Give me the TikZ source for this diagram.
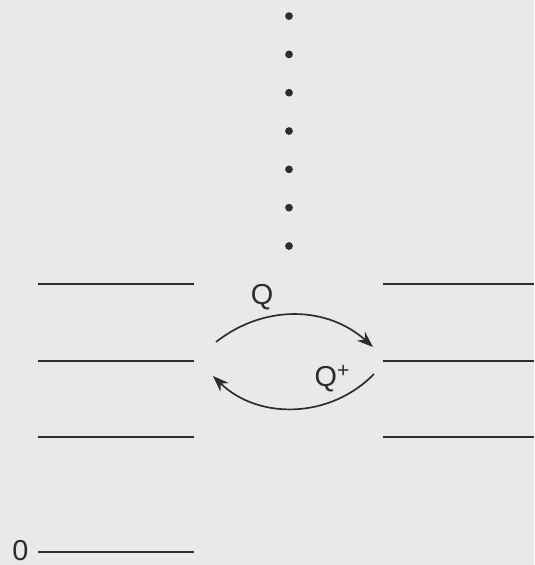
\documentclass[tikz,border=0pt]{standalone}
\usepackage{fontspec}
\setmainfont{Liberation Sans}
\usetikzlibrary{arrows.meta, positioning}
\definecolor{paper}{RGB}{233,233,233}
\definecolor{ink}{RGB}{45,45,45}

\begin{document}
\begin{tikzpicture}[
        >={Stealth[length=11.5pt, width=8.5pt]},
        level/.style={draw=ink, line width=1.1pt},
        hop/.style={->, draw=ink, line width=1.2pt},
        lbl/.style={font=\fontsize{20.5}{24}\selectfont, text=ink, inner sep=1pt},
        dot/.style={circle, fill=ink, inner sep=0pt, minimum size=5.5pt},
    ]
    % ---- Background and bounding box ----
    \fill[paper] (0,0) rectangle (13.35,14.125);
    \useasboundingbox (0,0) rectangle (13.35,14.125);

    % ---- Left ladder of levels ----
    \foreach \y/\n in {7.025/la, 5.1/lb, 3.2/lc, 0.325/ld} {
        \coordinate (\n w) at (0.95,\y);
        \coordinate (\n e) at (4.85,\y);
        \draw[level] (\n w) -- (\n e);
    }
    \node[lbl, left=0.2cm of ldw, yshift=1pt] (zero) {0};

    % ---- Right ladder of levels ----
    \foreach \y/\n in {7.025/ra, 5.1/rb, 3.2/rc} {
        \coordinate (\n w) at (9.575,\y);
        \coordinate (\n e) at (13.35,\y);
        \draw[level] (\n w) -- (\n e);
    }

    % ---- Dots going up ----
    \foreach \i in {0,...,6}
        \node[dot] (dot\i) at (7.225, 7.975+0.958*\i) {};

    % ---- Exchange arcs ----
    \coordinate (qfrom) at (5.4,5.575);
    \coordinate (qto) at (9.325,5.45);
    \coordinate (pfrom) at (9.35,4.775);
    \coordinate (pto) at (5.325,4.725);
    \draw[hop] (qfrom) to[bend left=40] (qto);
    \draw[hop] (pfrom) to[bend left=45] (pto);

    \node[lbl] (q) at (6.55,6.7) {Q};
    \node[lbl] (qplus) at (8.3,4.65)
        {Q\raisebox{0.6ex}{\fontsize{15}{15}\selectfont+}};

    \end{tikzpicture}
\end{document}
